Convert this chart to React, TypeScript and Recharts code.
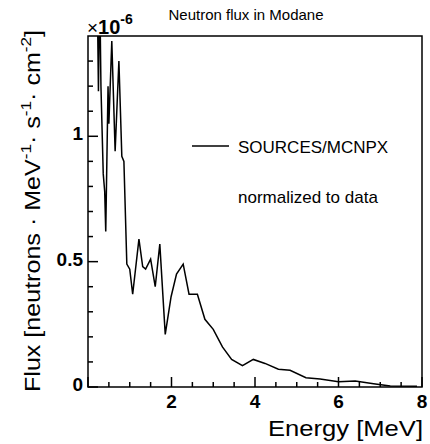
import React from 'react';
import { LineChart, Line, XAxis, YAxis, ReferenceArea, Customized } from 'recharts';

// energy in MeV, flux in units of 1e-6 neutrons / (MeV s cm2)
const energy = [
  0.22, 0.25, 0.28, 0.31, 0.365, 0.4, 0.425, 0.48, 0.5, 0.57, 0.65, 0.74, 0.81, 0.86, 0.93,
  1.0, 1.07, 1.22, 1.31, 1.38, 1.5, 1.61, 1.72, 1.85, 1.99, 2.12, 2.28, 2.42, 2.62, 2.8,
  3.0, 3.22, 3.44, 3.7, 3.96, 4.24, 4.56, 4.84, 5.22, 5.56, 6.0, 6.4, 6.84, 7.24, 7.88,
];
const flux = [
  1.6, 1.18, 1.6, 1.2, 0.85, 0.78, 0.62, 1.2, 1.05, 1.38, 0.94, 1.3, 0.92, 0.9, 0.49,
  0.47, 0.37, 0.59, 0.48, 0.47, 0.51, 0.4, 0.57, 0.21, 0.36, 0.45, 0.49, 0.37, 0.37, 0.27,
  0.23, 0.16, 0.11, 0.085, 0.11, 0.094, 0.071, 0.067, 0.037, 0.032, 0.021, 0.024, 0.013, 0.004, 0.003,
];

const xTicks = [0, 0.5, 1, 1.5, 2, 2.5, 3, 3.5, 4, 4.5, 5, 5.5, 6, 6.5, 7, 7.5, 8];
const xLabels = [2, 4, 6, 8];
const yTicks = [0, 0.1, 0.2, 0.3, 0.4, 0.5, 0.6, 0.7, 0.8, 0.9, 1, 1.1, 1.2, 1.3];
const yLabels = [0, 0.5, 1];

const data = energy.map((e, i) => ({ e, f: flux[i] }));

const FONT = '"Liberation Sans", Arial, Helvetica, sans-serif';
const PLOT_LEFT = 88;
const PLOT_BOTTOM = 387;

const XTick = (props: any) => {
  const { x, payload } = props;
  const v = payload.value;
  const y = PLOT_BOTTOM;
  const len = v % 2 === 0 ? 10 : 5;
  return (
    <g>
      <line x1={x} y1={y} x2={x} y2={y - len} stroke="#000" strokeWidth={1.5} />
      {xLabels.includes(v) && (
        <text x={x} y={y + 21} textAnchor="middle" fontFamily={FONT} fontWeight="bold" fontSize={19} fill="#000">
          {v}
        </text>
      )}
    </g>
  );
};

const YTick = (props: any) => {
  const { y, payload } = props;
  const v = payload.value;
  const x = PLOT_LEFT;
  const major = yLabels.some((l) => Math.abs(l - v) < 1e-6);
  const len = major ? 10 : 5;
  return (
    <g>
      <line x1={x} y1={y} x2={x + len} y2={y} stroke="#000" strokeWidth={1.5} />
      {major && (
        <text x={x - 5} y={y + 4} textAnchor="end" fontFamily={FONT} fontWeight="bold" fontSize={19} fill="#000">
          {v}
        </text>
      )}
    </g>
  );
};

const Texts = () => (
  <g fontFamily={FONT} fill="#000">
    <text x={246} y={20} textAnchor="middle" fontSize={15}>Neutron flux in Modane</text>
    <text x={87} y={34} fontSize={19}>
      ×<tspan fontWeight="bold" fontSize={20}>10</tspan>
      <tspan fontWeight="bold" fontSize={14} dy={-10}>-6</tspan>
    </text>
    <line x1={192} y1={146} x2={229} y2={146} stroke="#000" strokeWidth={1.5} />
    <text x={238} y={153} fontSize={17}>SOURCES/MCNPX</text>
    <text x={238} y={203} fontSize={17}>normalized to data</text>
    <text x={423} y={436} textAnchor="end" fontSize={22} textLength={155} lengthAdjust="spacingAndGlyphs">
      Energy [MeV]
    </text>
    <text
      transform="translate(40, 30) rotate(-90)"
      textAnchor="end"
      fontSize={22}
      textLength={362}
      lengthAdjust="spacingAndGlyphs"
    >
      Flux [neutrons · MeV<tspan fontSize={15} dy={-9}>-1</tspan>
      <tspan dy={9}>· s</tspan>
      <tspan fontSize={15} dy={-9}>-1</tspan>
      <tspan dy={9}>· cm</tspan>
      <tspan fontSize={15} dy={-9}>-2</tspan>
      <tspan dy={9}>]</tspan>
    </text>
  </g>
);

export default function App() {
  return (
    <div style={{ position: 'absolute', left: 0, top: 0, width: 430, height: 444, background: '#fff' }}>
      <LineChart width={430} height={444} data={data} margin={{ top: 36, right: 8, bottom: 0, left: 0 }}>
        <XAxis
          dataKey="e"
          type="number"
          domain={[0, 8]}
          ticks={xTicks}
          interval={0}
          height={57}
          axisLine={false}
          tickLine={false}
          tick={<XTick />}
          allowDataOverflow
        />
        <YAxis
          type="number"
          domain={[0, 1.4]}
          ticks={yTicks}
          interval={0}
          width={88}
          axisLine={false}
          tickLine={false}
          tick={<YTick />}
          allowDataOverflow
        />
        <Line
          dataKey="f"
          stroke="#000"
          strokeWidth={1.5}
          dot={false}
          type="linear"
          isAnimationActive={false}
        />
        <ReferenceArea x1={0} x2={8} y1={0} y2={1.4} fill="none" stroke="#000" strokeWidth={1.5} fillOpacity={0} />
        <Customized component={Texts} />
      </LineChart>
    </div>
  );
}
